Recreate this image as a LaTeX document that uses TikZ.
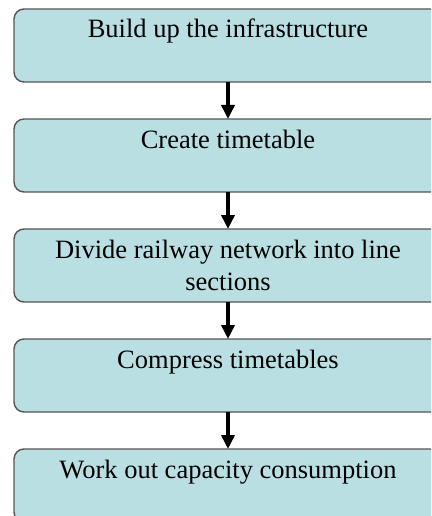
\documentclass[tikz,border=0pt]{standalone}
\usepackage{fontspec}
\setmainfont{Liberation Serif}
\usetikzlibrary{arrows.meta}
\definecolor{boxfill}{HTML}{B9DFE3}
\definecolor{boxline}{HTML}{555555}
\tikzset{
  stepbox/.style={draw=boxline, line width=1.4pt, fill=boxfill,
    rounded corners=10pt, minimum width=428pt, minimum height=73pt,
    inner sep=0pt, outer sep=0pt},
  steptext/.style={anchor=base, align=center, inner sep=0pt,
    font=\fontsize{26.5}{32}\selectfont},
  flow/.style={line width=3.5pt, -{Triangle[length=14pt,width=13pt]}}
}
\begin{document}
\begin{tikzpicture}[x=1pt,y=-1pt]
  \useasboundingbox (0,0) rectangle (431,516);
  \clip (0,0) rectangle (431,516);
  % process boxes
  \node[stepbox] (b1) at (228,45.5) {};
  \node[stepbox] (b2) at (228,155.5) {};
  \node[stepbox] (b3) at (228,265.5) {};
  \node[stepbox] (b4) at (228,375.5) {};
  \node[stepbox] (b5) at (228,485.5) {};
  % captions, set near the top of each box (base = last line's baseline)
  \node[steptext] (t1) at ([yshift=-29pt]b1.north) {Build up the infrastructure};
  \node[steptext] (t2) at ([yshift=-29pt]b2.north) {Create timetable};
  \node[steptext] (t3) at ([yshift=-61pt]b3.north) {Divide railway network into line\\sections};
  \node[steptext] (t4) at ([yshift=-29pt]b4.north) {Compress timetables};
  \node[steptext] (t5) at ([yshift=-29pt]b5.north) {Work out capacity consumption};
  % arrows between consecutive steps
  \draw[flow] (b1.south) -- (b2.north);
  \draw[flow] (b2.south) -- (b3.north);
  \draw[flow] (b3.south) -- (b4.north);
  \draw[flow] (b4.south) -- (b5.north);
\end{tikzpicture}
\end{document}
